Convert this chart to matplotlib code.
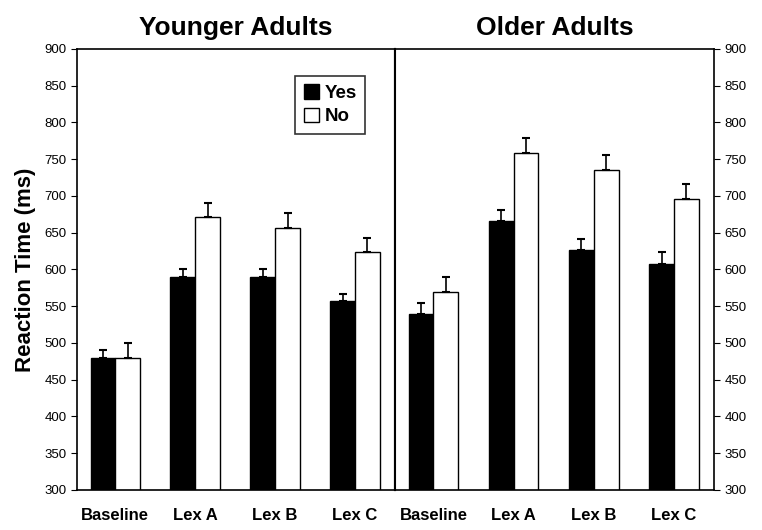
import matplotlib
matplotlib.use('Agg')
from matplotlib import pyplot as plt
import numpy as np

plt.rcParams['font.family'] = ['Liberation Sans', 'DejaVu Sans']

conditions = ['Baseline', 'Lex A', 'Lex B', 'Lex C']
panels = ['Younger Adults', 'Older Adults']

# mean reaction times (ms) and upper error bar lengths
young_yes = [480, 590, 590, 557]
young_no = [480, 671, 656, 624]
young_yes_err = [10, 10, 11, 10]
young_no_err = [20, 20, 21, 19]

old_yes = [540, 666, 627, 608]
old_no = [569, 758, 736, 696]
old_yes_err = [15, 15, 15, 16]
old_no_err = [21, 21, 20, 21]

data = [
    (young_yes, young_no, young_yes_err, young_no_err),
    (old_yes, old_no, old_yes_err, old_no_err),
]

fig = plt.figure(figsize=(7.62, 5.30), dpi=100)
ax_left = fig.add_axes([77 / 762, 40 / 530, 318 / 762, 441 / 530])
ax_right = fig.add_axes([395 / 762, 40 / 530, 319 / 762, 441 / 530])

x = np.arange(len(conditions))
w = 0.31
for ax, title, (yes, no, yerr, nerr) in zip([ax_left, ax_right], panels, data):
    ax.bar(x - w / 2, yes, w, color='black', edgecolor='black', linewidth=1, label='Yes')
    ax.bar(x + w / 2, no, w, color='white', edgecolor='black', linewidth=1, label='No')
    ax.errorbar(x - w / 2, yes, yerr=[np.zeros(4), yerr], fmt='none', ecolor='black',
                elinewidth=1.2, capsize=3, capthick=1.5)
    ax.errorbar(x + w / 2, no, yerr=[np.zeros(4), nerr], fmt='none', ecolor='black',
                elinewidth=1.2, capsize=3, capthick=1.5)
    ax.set_ylim(300, 900)
    ax.set_xlim(-0.48, 3.5)
    ax.set_yticks(np.arange(300, 901, 50))
    ax.set_xticks(x)
    ax.set_xticklabels(conditions, fontweight='bold', fontsize=12)
    ax.tick_params(axis='x', length=0, pad=13)
    ax.set_title(title, fontweight='bold', fontsize=19, pad=10)
    for s in ax.spines.values():
        s.set_linewidth(1.2)

ax_left.tick_params(axis='y', labelsize=9.5, direction='out', length=4)
ax_left.set_ylabel('Reaction Time (ms)', fontweight='bold', fontsize=16, labelpad=6)
ax_right.yaxis.tick_right()
ax_right.tick_params(axis='y', labelsize=9.5, direction='out', length=4)
ax_right.spines['left'].set_linewidth(1.5)
ax_left.spines['right'].set_linewidth(1.5)

leg = ax_left.legend(loc='upper right', bbox_to_anchor=(0.935, 0.96), frameon=True,
                     fancybox=False, edgecolor='black', prop={'weight': 'bold', 'size': 13.5},
                     handlelength=0.8, handleheight=0.8, handletextpad=0.3,
                     borderpad=0.45, labelspacing=0.3)
leg.get_frame().set_linewidth(1.2)

plt.savefig('out.png', dpi=100)
